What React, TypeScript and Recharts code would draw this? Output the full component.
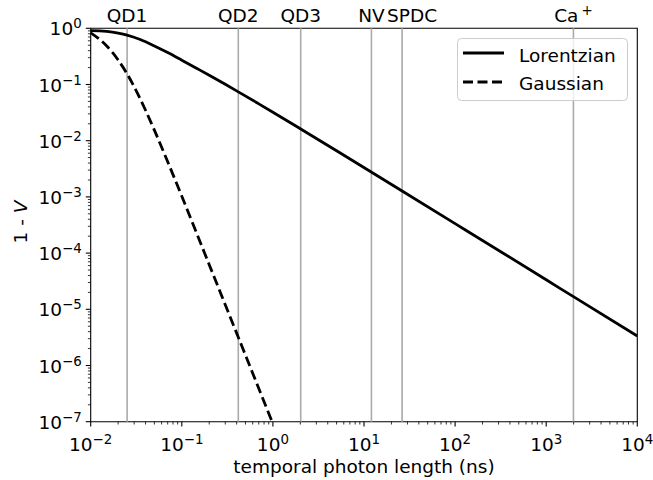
import React from 'react';
import { LineChart, Line, XAxis, YAxis, ReferenceLine, ReferenceArea, Legend } from 'recharts';

// Lorentzian curve (x: temporal photon length in ns, y: 1 - V)
const lorentzX = [0.01, 0.0126, 0.015, 0.02, 0.025, 0.035, 0.05, 0.07, 0.1, 0.15, 0.2, 0.3, 0.417, 0.7, 1.0, 2.0, 5, 12, 26.2, 100, 1000, 1990, 10000];
const lorentzY = [0.912, 0.902, 0.879, 0.82, 0.759, 0.632, 0.485, 0.37, 0.271, 0.189, 0.146, 0.1007, 0.074, 0.0452, 0.0321, 0.01633, 6.62e-3, 2.78e-3, 1.276e-3, 3.35e-4, 3.35e-5, 1.68e-5, 3.35e-6];

// Gaussian curve
const gaussX = [0.01, 0.0125, 0.015, 0.0175, 0.02, 0.025, 0.03, 0.04, 0.05, 0.07, 0.1, 0.15, 0.2, 0.3, 0.42, 0.6, 0.8, 0.98];
const gaussY = [0.832, 0.637, 0.484, 0.364, 0.273, 0.156, 0.0912, 0.0348, 0.0154, 4.22e-3, 1.03e-3, 2.0e-4, 6.22e-5, 1.205e-5, 3.09e-6, 7.28e-7, 2.27e-7, 1.0e-7];

// Vertical markers
const markerX = [0.0251, 0.417, 2.02, 12.06, 26.2, 1990];
const markerLabels = ['QD1', 'QD2', 'QD3', 'NV', 'SPDC', 'Ca'];
const markerSup = ['', '', '', '', '', '+'];
const markerLabelShift = [0, 0, 0, 0, 10, 0];

// Axis ticks
const xMajor = [1e-2, 1e-1, 1, 10, 100, 1000, 1e4];
const yMajor = [1e-7, 1e-6, 1e-5, 1e-4, 1e-3, 1e-2, 1e-1, 1];
const minorMultipliers = [2, 3, 4, 5, 6, 7, 8, 9];

const xTicks: number[] = [];
xMajor.forEach((d, i) => {
  xTicks.push(d);
  if (i < xMajor.length - 1) minorMultipliers.forEach((m) => xTicks.push(m * d));
});
const yTicks: number[] = [];
yMajor.forEach((d, i) => {
  yTicks.push(d);
  if (i < yMajor.length - 1) minorMultipliers.forEach((m) => yTicks.push(m * d));
});

const lorentzData = lorentzX.map((x, i) => ({ x, y: lorentzY[i] }));
const gaussData = gaussX.map((x, i) => ({ x, y: gaussY[i] }));

const FONT = 'DejaVu Sans';
const FS = 18.5;
const SUP = 13.4;

const isMajor = (v: number) => Math.abs(Math.log10(v) - Math.round(Math.log10(v))) < 1e-6;
const expStr = (v: number) => {
  const e = Math.round(Math.log10(v));
  return e < 0 ? '\u2212' + Math.abs(e) : String(e);
};

const XTick = (props: any) => {
  const { x, y, payload } = props;
  const v = payload.value;
  const major = isMajor(v);
  return (
    <g>
      <line x1={x} x2={x} y1={y} y2={y + (major ? 4.9 : 2.8)} stroke="#000" strokeWidth={major ? 1.1 : 0.8} />
      {major && (
        <text x={x} y={y + 29} textAnchor="middle" fontFamily={FONT} fontSize={FS} fill="#000">
          10<tspan dy={-7} fontSize={SUP}>{expStr(v)}</tspan>
        </text>
      )}
    </g>
  );
};

const YTick = (props: any) => {
  const { x, y, payload } = props;
  const v = payload.value;
  const major = isMajor(v);
  return (
    <g>
      <line x1={x - (major ? 4.9 : 2.8)} x2={x} y1={y} y2={y} stroke="#000" strokeWidth={major ? 1.1 : 0.8} />
      {major && (
        <text x={x - 9} y={y + 7} textAnchor="end" fontFamily={FONT} fontSize={FS} fill="#000">
          10<tspan dy={-7} fontSize={SUP}>{expStr(v)}</tspan>
        </text>
      )}
    </g>
  );
};

const MarkerLabel = (props: any) => {
  const { viewBox, text, sup, shift } = props;
  if (!viewBox) return null;
  return (
    <text x={viewBox.x + shift} y={viewBox.y - 6} textAnchor="middle" fontFamily={FONT} fontSize={FS} fill="#000">
      {text}
      {sup ? <tspan dx={3} dy={-7} fontSize={SUP}>{sup}</tspan> : null}
    </text>
  );
};

const LegendContent = () => (
  <svg width={172} height={64} style={{ display: 'block' }}>
    <rect x={0.5} y={0.5} width={170} height={62} rx={4} ry={4} fill="#fff" fillOpacity={0.8} stroke="#cccccc" strokeWidth={1} />
    <line x1={6} x2={47} y1={15} y2={15} stroke="#000" strokeWidth={2.8} />
    <text x={62} y={23.5} fontFamily={FONT} fontSize={FS} fill="#000">Lorentzian</text>
    <line x1={6} x2={47} y1={44} y2={44} stroke="#000" strokeWidth={2.8} strokeDasharray="10 4.5" />
    <text x={62} y={52} fontFamily={FONT} fontSize={FS} fill="#000">Gaussian</text>
  </svg>
);

const XLabel = (props: any) => {
  const { viewBox } = props;
  return (
    <text x={viewBox.x + viewBox.width / 2} y={viewBox.y + 51} textAnchor="middle" fontFamily={FONT} fontSize={FS} fill="#000">
      temporal photon length (ns)
    </text>
  );
};

const YLabel = (props: any) => {
  const { viewBox } = props;
  const cx = 27;
  const cy = viewBox.y + viewBox.height / 2 - 3;
  return (
    <text x={cx} y={cy} transform={`rotate(-90 ${cx} ${cy})`} textAnchor="middle" fontFamily={FONT} fontSize={FS} fill="#000">
      1 - <tspan fontStyle="italic">V</tspan>
    </text>
  );
};

export default function App() {
  return (
    <div style={{ position: 'absolute', left: 0, top: 0, width: 653, height: 480, background: '#fff' }}>
      <LineChart width={653} height={480} margin={{ top: 28.3, right: 15.7, bottom: 0, left: 0 }}>
        <XAxis
          dataKey="x"
          type="number"
          scale="log"
          domain={[0.01, 10000]}
          allowDataOverflow
          ticks={xTicks}
          interval={0}
          tick={<XTick />}
          tickLine={false}
          tickSize={0}
          tickMargin={0}
          axisLine={false}
          height={58.3}
          label={<XLabel />}
        />
        <YAxis
          dataKey="y"
          type="number"
          scale="log"
          domain={[1e-7, 1]}
          allowDataOverflow
          ticks={yTicks}
          interval={0}
          tick={<YTick />}
          tickLine={false}
          tickSize={0}
          tickMargin={0}
          axisLine={false}
          width={90.7}
          label={<YLabel />}
        />
        {markerX.map((mx, i) => (
          <ReferenceLine
            key={markerLabels[i]}
            x={mx}
            stroke="#aaaaaa"
            strokeWidth={1.6}
            label={<MarkerLabel text={markerLabels[i]} sup={markerSup[i]} shift={markerLabelShift[i]} />}
          />
        ))}
        <Line data={lorentzData} dataKey="y" type="monotone" stroke="#000" strokeWidth={2.8} dot={false} isAnimationActive={false} name="Lorentzian" />
        <Line data={gaussData} dataKey="y" type="monotone" stroke="#000" strokeWidth={2.8} strokeDasharray="10 4.5" dot={false} isAnimationActive={false} name="Gaussian" />
        <ReferenceArea x1={0.01} x2={10000} y1={1e-7} y2={1} fill="none" fillOpacity={0} stroke="#000" strokeWidth={1.1} ifOverflow="visible" />
        <Legend
          layout="vertical"
          align="center"
          verticalAlign="middle"
          content={<LegendContent />}
          wrapperStyle={{ position: 'absolute', left: 457, top: 38, width: 172, height: 64 }}
        />
      </LineChart>
    </div>
  );
}
